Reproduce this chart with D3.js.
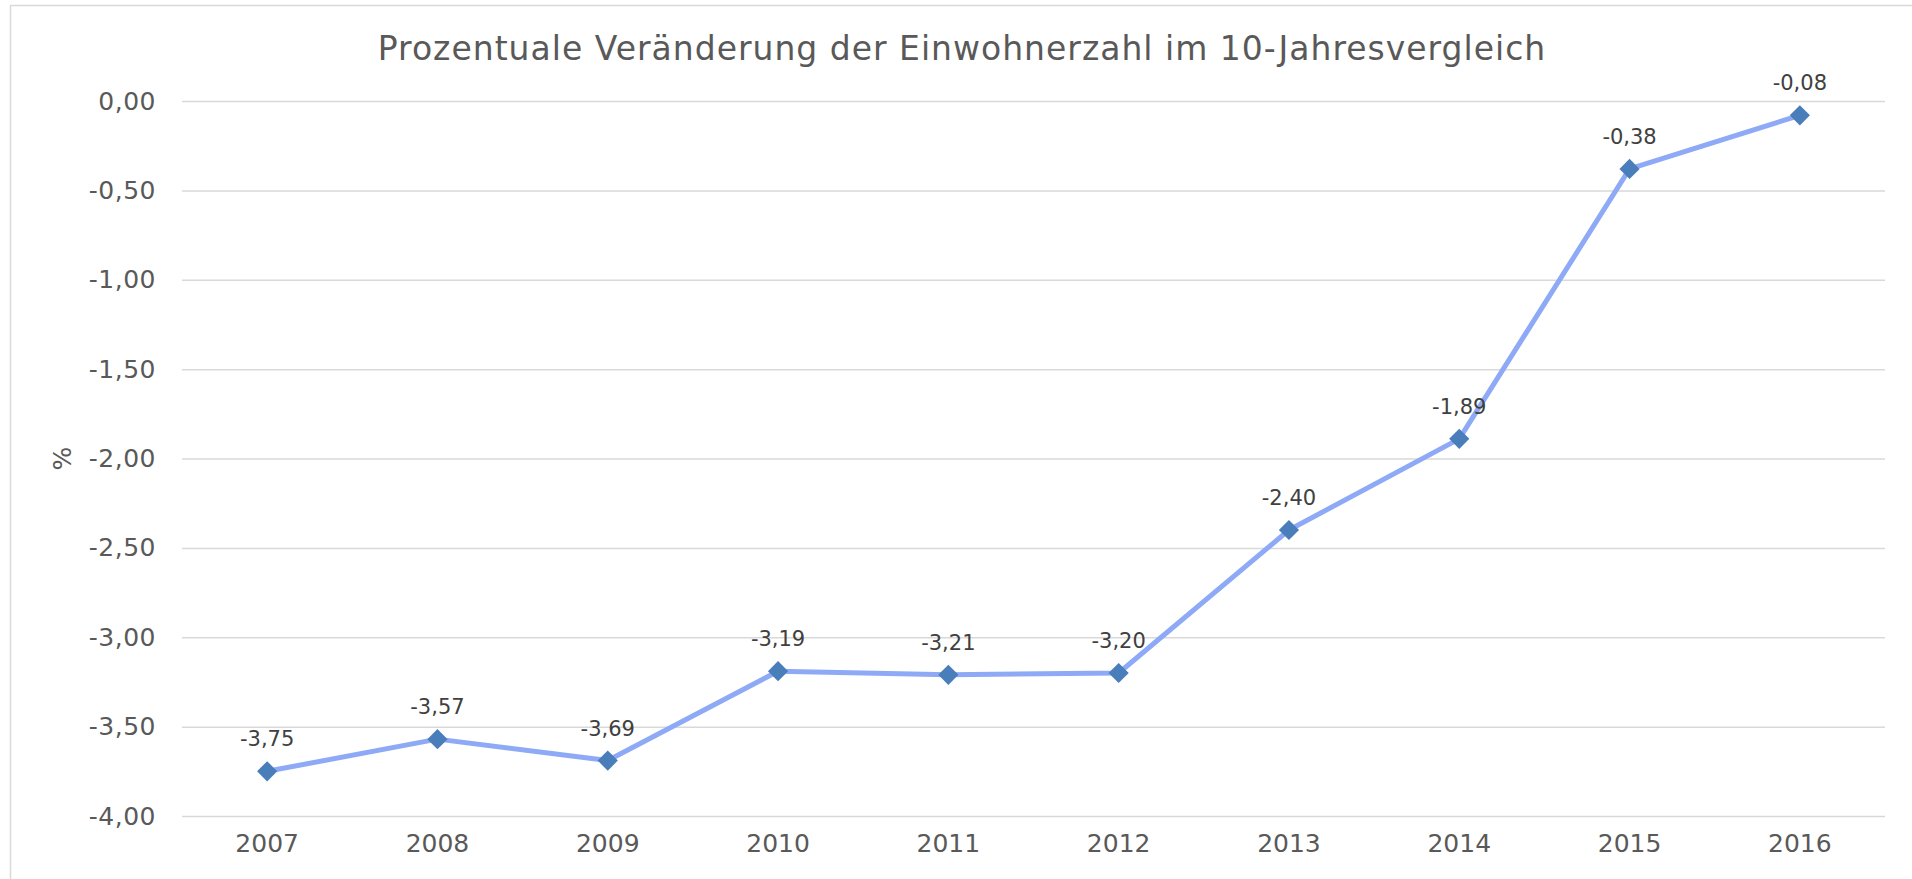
<!DOCTYPE html>
<html>
<head>
<meta charset="utf-8">
<script src="https://cdn.jsdelivr.net/npm/d3@7"></script>
<style>
  html, body { margin: 0; padding: 0; background: #fff; }
  svg { display: block; }
</style>
</head>
<body>
<div id="chart_div"></div>
<script>
// data
const years = ["2007", "2008", "2009", "2010", "2011", "2012", "2013", "2014", "2015", "2016"];
const changePct = [-3.75, -3.57, -3.69, -3.19, -3.21, -3.20, -2.40, -1.89, -0.38, -0.08];
const yTicks = [0, -0.5, -1, -1.5, -2, -2.5, -3, -3.5, -4];
const chartTitle = "Prozentuale Veränderung der Einwohnerzahl im 10-Jahresvergleich";
const yLabel = "%";

const width = 1912, height = 879;
const margin = {top: 101, right: 27, bottom: 63, left: 182};
const plot_w = width - margin.left - margin.right,
      plot_h = height - margin.top - margin.bottom;

const de = d3.formatLocale({decimal: ",", thousands: ".", grouping: [3], currency: ["", " €"], minus: "-"});
const fmt = de.format(".2f");

const svg = d3.select("#chart_div")
  .append("svg")
    .attr("width", width)
    .attr("height", height)
    .style("font-family", "'DejaVu Sans', Verdana, sans-serif");

// outer chart frame
svg.append("rect")
  .attr("x", 10.5).attr("y", 5.5)
  .attr("width", width - 8).attr("height", height)
  .attr("fill", "none")
  .attr("stroke", "#d9d9d9")
  .attr("stroke-width", 1.5);

const g = svg.append("g")
  .attr("transform", `translate(${margin.left}, ${margin.top})`);

const x = d3.scaleBand()
  .domain(years)
  .range([0, plot_w]);

const y = d3.scaleLinear()
  .domain([-4, 0])
  .range([plot_h, 0]);

// gridlines + y labels
const yAxis = g.append("g")
  .call(d3.axisLeft(y).tickValues(yTicks).tickSize(-plot_w).tickPadding(26).tickFormat(fmt));
yAxis.select(".domain").remove();
yAxis.selectAll(".tick line").attr("stroke", "#d9d9d9").attr("stroke-width", 1.5);
yAxis.selectAll(".tick text")
  .attr("fill", "#595959")
  .style("font-size", "25px")
  .style("letter-spacing", "0.5px")
  .style("font-family", "'DejaVu Sans', Verdana, sans-serif");

// x labels
const xAxis = g.append("g")
  .attr("transform", `translate(0, ${plot_h})`)
  .call(d3.axisBottom(x).tickSize(0).tickPadding(18));
xAxis.select(".domain").remove();
xAxis.selectAll(".tick text")
  .attr("fill", "#595959")
  .style("font-size", "25px")
  .style("font-family", "'DejaVu Sans', Verdana, sans-serif");

// title
svg.append("text")
  .attr("x", 962)
  .attr("y", 60)
  .attr("text-anchor", "middle")
  .attr("fill", "#595959")
  .style("font-size", "33px")
  .style("letter-spacing", "1px")
  .text(chartTitle);

// y axis label
svg.append("text")
  .attr("transform", `translate(${62}, ${margin.top + plot_h / 2}) rotate(-90)`)
  .attr("text-anchor", "middle")
  .attr("dy", "0.35em")
  .attr("fill", "#595959")
  .style("font-size", "25px")
  .text(yLabel);

const pts = years.map((yr, i) => ({year: yr, v: changePct[i]}));
const cx = d => x(d.year) + x.bandwidth() / 2;

// line
const line = d3.line()
  .x(cx)
  .y(d => y(d.v));

g.append("path")
  .datum(pts)
  .attr("fill", "none")
  .attr("stroke", "#8eaaf7")
  .attr("stroke-width", 5)
  .attr("stroke-linejoin", "round")
  .attr("d", line);

// diamond markers
g.selectAll(".marker")
  .data(pts)
  .join("path")
    .attr("class", "marker")
    .attr("transform", d => `translate(${cx(d)}, ${y(d.v)})`)
    .attr("d", d3.symbol(d3.symbolDiamond2, 260))
    .attr("fill", "#4a7ebb");

// data labels
g.selectAll(".dlabel")
  .data(pts)
  .join("text")
    .attr("class", "dlabel")
    .attr("x", cx)
    .attr("y", d => y(d.v) - 25)
    .attr("text-anchor", "middle")
    .attr("fill", "#404040")
    .style("font-size", "21px")
    .text(d => fmt(d.v));
</script>
</body>
</html>
